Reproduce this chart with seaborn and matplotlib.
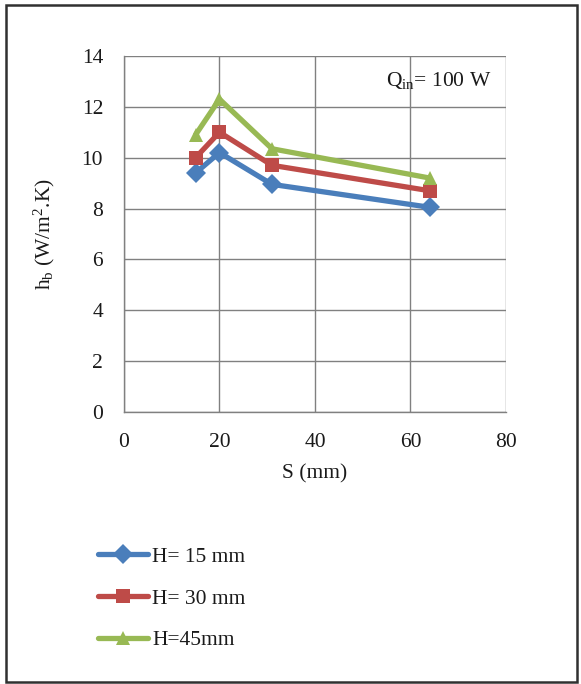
import pandas as pd
import matplotlib
matplotlib.use('Agg')
import matplotlib.pyplot as plt
import matplotlib.patches as mpatches
import seaborn as sns

# ── Données ───────────────────────────────────────────────────────
s_mm = [15, 20, 31, 64]
hb_h15 = [9.4, 10.2, 8.95, 8.05]
hb_h30 = [10.0, 11.0, 9.7, 8.7]
hb_h45 = [10.9, 12.3, 10.35, 9.2]
labels = ['H= 15 mm', 'H= 30 mm', 'H=45mm']
x_ticks = [0, 20, 40, 60, 80]
y_ticks = [0, 2, 4, 6, 8, 10, 12, 14]

df = pd.DataFrame({
    'S': s_mm * 3,
    'hb': hb_h15 + hb_h30 + hb_h45,
    'serie': [labels[0]] * 4 + [labels[1]] * 4 + [labels[2]] * 4,
})

sns.set_style('white')
plt.rcParams['font.family'] = ['Liberation Serif', 'DejaVu Serif']
plt.rcParams['mathtext.fontset'] = 'custom'
plt.rcParams['mathtext.rm'] = 'Liberation Serif'
plt.rcParams['mathtext.it'] = 'Liberation Serif'
plt.rcParams['text.color'] = '#1a1a1a'
plt.rcParams['axes.labelcolor'] = '#1a1a1a'
plt.rcParams['xtick.labelcolor'] = '#1a1a1a'
plt.rcParams['ytick.labelcolor'] = '#1a1a1a'

FS = 15.5

palette = {labels[0]: '#4a7ebb', labels[1]: '#be4b48', labels[2]: '#98b954'}
markers = {labels[0]: 'D', labels[1]: 's', labels[2]: '^'}

fig = plt.figure(figsize=(5.81, 6.84), dpi=100)
ax = fig.add_axes([0.2134, 0.3977, 0.6575, 0.5205])

sns.lineplot(data=df, x='S', y='hb', hue='serie', style='serie',
             palette=palette, markers=markers, dashes=False,
             linewidth=3.8, markersize=10, markeredgewidth=0,
             ax=ax, legend=True)

ax.set_xlim(0, 80)
ax.set_ylim(0, 14)
ax.set_xticks(x_ticks)
ax.set_yticks(y_ticks)
ax.grid(True, color='#808080', linewidth=1)
for side in ['top', 'right']:
    ax.spines[side].set_visible(False)
for side in ['left', 'bottom']:
    ax.spines[side].set_color('#808080')
    ax.spines[side].set_linewidth(1)
ax.tick_params(axis='both', which='both', direction='out', length=6,
               width=1, color='#808080', labelsize=FS)
ax.tick_params(axis='y', pad=9)
ax.tick_params(axis='x', pad=9)

ax.set_xlabel('S (mm)', fontsize=FS, labelpad=9)
ax.set_ylabel(r'h$_\mathrm{b}$ (W/m$^\mathrm{2}$.K)', fontsize=FS, labelpad=18)

ax.text(77, 13.05, r'Q$_\mathrm{in}$= 100 W', ha='right', va='center',
        fontsize=FS)

# ── Légende sous le graphique ─────────────────────────────────────
handles, lbls = ax.get_legend_handles_labels()
ax.get_legend().remove()
fig.legend(handles, lbls, loc='upper left', bbox_to_anchor=(0.153, 0.213),
           frameon=False, fontsize=FS, handlelength=2.35,
           labelspacing=1.0, handletextpad=0.2, borderaxespad=0)

# ── Cadre extérieur ───────────────────────────────────────────────
fig.patches.append(mpatches.Rectangle((6 / 581, 2 / 684), 571 / 581, 677 / 684,
                                      transform=fig.transFigure, fill=False,
                                      edgecolor='#303030', linewidth=1.8))

fig.savefig('out.png', dpi=100)
plt.close(fig)
